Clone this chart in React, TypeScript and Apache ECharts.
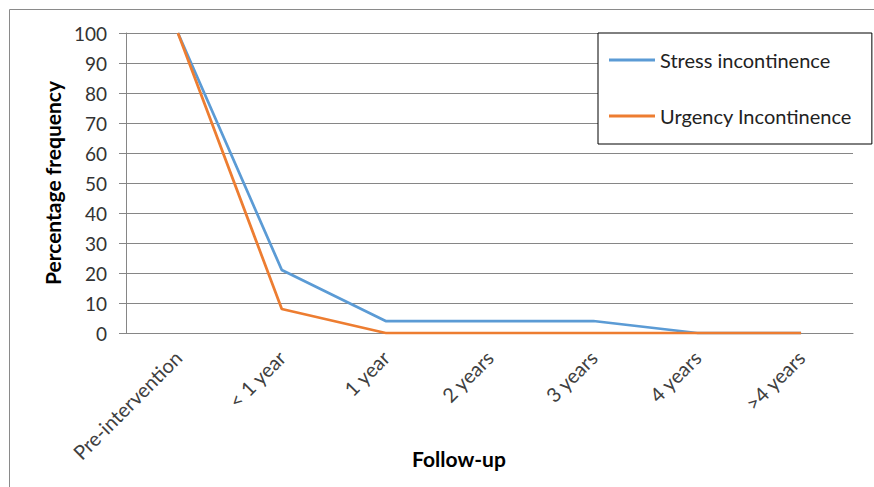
import React, { useEffect, useRef } from "react";
import * as echarts from "echarts";

const categories = ["Pre-intervention", "< 1 year", "1 year", "2 years", "3 years", "4 years", ">4 years"];
const stressIncontinence = [100, 21, 4, 4, 4, 0, 0];
const urgencyIncontinence = [100, 8, 0, 0, 0, 0, 0];
const seriesNames = ["Stress incontinence", "Urgency Incontinence"];
const xTitle = "Follow-up";
const yTitle = "Percentage frequency";

const FONT = "Lato, 'Open Sans', sans-serif";

export default function App() {
  const ref = useRef<HTMLDivElement>(null);
  useEffect(() => {
    if (!ref.current) return;
    const chart = echarts.init(ref.current, null, { renderer: "svg" });
    chart.setOption({
      animation: false,
      textStyle: { fontFamily: FONT },
      grid: { left: 126, top: 33, right: 21, bottom: 154, containLabel: false },
      legend: {
        orient: "vertical",
        left: 598,
        top: 33,
        padding: [17, 20, 18, 11],
        itemGap: 36,
        itemWidth: 46,
        itemHeight: 3,
        icon: "rect",
        borderColor: "#000",
        borderWidth: 1,
        backgroundColor: "#fff",
        textStyle: { fontFamily: FONT, fontSize: 20, color: "#222", lineHeight: 20 },
        data: seriesNames,
      },
      graphic: [
        {
          type: "rect",
          shape: { x: 9.5, y: 9.5, width: 900, height: 600 },
          style: { fill: "none", stroke: "#8a8a8a", lineWidth: 1 },
          z: -1,
        },
        {
          type: "text",
          x: 459,
          y: 458,
          style: {
            text: xTitle,
            fontFamily: FONT,
            fontSize: 21,
            fontWeight: "bold",
            fill: "#000",
            textAlign: "center",
            textVerticalAlign: "middle",
          },
        },
      ],
      xAxis: {
        type: "category",
        data: categories,
        boundaryGap: true,
        axisLine: { lineStyle: { color: "#868686", width: 1 } },
        axisTick: { alignWithLabel: true, length: 6, lineStyle: { color: "#868686" } },
        axisLabel: { rotate: 45, margin: 21, fontSize: 20, color: "#404040", fontFamily: FONT },
        splitLine: { show: false },
      },
      yAxis: {
        type: "value",
        min: 0,
        max: 100,
        interval: 10,
        name: yTitle,
        nameLocation: "middle",
        nameGap: 63,
        nameTextStyle: { fontSize: 21, fontWeight: "bold", color: "#000", fontFamily: FONT },
        axisLine: { show: true, lineStyle: { color: "#868686" } },
        axisTick: { show: true, length: 7, lineStyle: { color: "#868686" } },
        axisLabel: { margin: 19, fontSize: 19, color: "#333", fontFamily: FONT },
        splitLine: { lineStyle: { color: "#868686", width: 1 } },
      },
      series: [
        {
          name: seriesNames[0],
          type: "line",
          data: stressIncontinence,
          symbol: "none",
          lineStyle: { color: "#5B9BD5", width: 2.75 },
          itemStyle: { color: "#5B9BD5" },
        },
        {
          name: seriesNames[1],
          type: "line",
          data: urgencyIncontinence,
          symbol: "none",
          lineStyle: { color: "#ED7D31", width: 2.75 },
          itemStyle: { color: "#ED7D31" },
        },
      ],
    });
    return () => chart.dispose();
  }, []);
  return <div ref={ref} style={{ width: 874, height: 487, position: "absolute", left: 0, top: 0 }} />;
}
